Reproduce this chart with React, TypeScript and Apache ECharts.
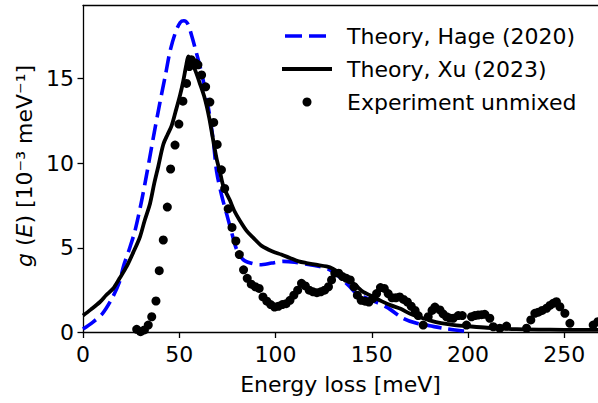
import React, { useEffect, useRef } from "react";
import * as echarts from "echarts";

const xTicks = [0, 50, 100, 150, 200, 250];
const yTicks = [0, 5, 10, 15];

const hageX = [0, 5, 10, 15, 19, 21, 24, 27, 30.5, 33.5, 37, 40, 43, 45.2, 48, 50.5, 52.4, 54.5, 56.5, 58.2, 61, 63.3, 65.5, 67.7, 69.4, 72, 74.6, 77, 79.8, 83.2, 87, 91.9, 98, 104, 110, 117.9, 123, 128.2, 133, 138.6, 142.1, 150, 157.7, 166.3, 173.3, 180, 187, 197.5, 200];
const hageY = [0.2, 0.6, 1.1, 2.0, 3.0, 3.9, 4.9, 6.0, 7.8, 9.6, 11.8, 13.6, 15.3, 16.6, 17.7, 18.3, 18.4, 18.2, 17.5, 16.8, 15.6, 14.4, 13.0, 11.3, 9.5, 8.1, 7.0, 6.0, 4.9, 4.3, 4.1, 4.0, 4.1, 4.2, 4.15, 4.0, 3.9, 3.7, 3.3, 2.7, 2.3, 1.9, 1.5, 0.84, 0.54, 0.4, 0.25, 0.09, 0.05];

const xuX = [0, 4, 8.8, 12, 15.7, 19, 22.7, 26, 29.6, 32, 34.8, 37, 39.1, 41.7, 44, 46, 48, 50.4, 52, 53.5, 54.7, 56, 58.2, 61, 63.3, 65.5, 67.7, 69.5, 71.1, 73, 76.3, 78.5, 81.5, 85, 88.4, 93, 98.8, 103, 107.5, 112, 116.1, 121, 126.5, 130, 133.4, 138, 141.5, 145.5, 150, 155, 160, 165, 170, 175, 180, 186, 192, 199, 210, 225, 240, 255, 267.5];
const xuY = [1.0, 1.35, 1.8, 2.2, 2.6, 3.2, 3.9, 4.7, 5.65, 6.6, 7.6, 8.8, 9.8, 11.1, 11.7, 12.2, 13.0, 14.0, 14.8, 15.7, 16.3, 16.0, 15.5, 14.6, 13.8, 12.7, 11.3, 10.2, 9.5, 8.6, 7.8, 7.2, 6.6, 6.0, 5.6, 5.1, 4.77, 4.6, 4.4, 4.2, 4.1, 4.0, 3.9, 3.75, 3.5, 3.1, 2.8, 2.4, 2.15, 1.85, 1.6, 1.4, 1.1, 0.9, 0.72, 0.55, 0.45, 0.38, 0.28, 0.2, 0.17, 0.15, 0.15];

const expX = [0, 2, 4, 6, 8, 10, 12, 14, 16, 18, 20, 22, 24, 26, 27.9, 29.9, 31.9, 33.9, 35.7, 37.9, 39.6, 41.7, 43.8, 45.5, 47.8, 49.8, 51.9, 53.8, 55.2, 56.2, 57.3, 58.4, 59.7, 61.6, 63.7, 65.9, 67.9, 69.7, 71.9, 73.6, 75.4, 77.4, 79.4, 81.2, 83.4, 85.3, 87.4, 89.5, 91.5, 93.5, 95.5, 97.5, 99.5, 101.5, 103.5, 105.5, 107.5, 109.5, 111.5, 113.5, 115.5, 117.5, 119.5, 121.5, 123.5, 125.5, 127.5, 129.1, 130.8, 132.8, 134.8, 136.8, 138.8, 140.8, 142.5, 144.5, 146.5, 148.5, 150.5, 152.5, 154.5, 156.5, 158.5, 160.5, 162.5, 164.5, 166.5, 168.5, 170.5, 172.5, 174.1, 176.7, 179.3, 181.3, 182.8, 185.4, 187, 188.8, 190.5, 192.3, 194.9, 197, 199.2, 201.8, 203.5, 205.2, 207, 208.7, 211.3, 213.1, 216.5, 220, 222, 224, 226, 228, 230.4, 232.6, 234.7, 236.5, 238.5, 240.8, 242.5, 244.2, 245.9, 247.7, 250.3, 252.9, 255, 257, 259, 261, 263, 265, 267.4];
const expY = [-0.2, -0.2, -0.2, -0.2, -0.2, -0.2, -0.2, -0.2, -0.2, -0.2, -0.2, -0.2, -0.2, -0.2, 0.19, 0.05, 0.15, 0.44, 0.93, 1.86, 3.65, 5.46, 7.4, 9.65, 11.06, 12.3, 13.65, 14.7, 15.7, 16.1, 15.9, 15.9, 15.8, 15.2, 14.5, 13.6, 12.4, 11.1, 9.6, 8.5, 7.3, 6.2, 5.4, 4.6, 3.7, 3.2, 2.85, 2.7, 2.6, 2.1, 1.85, 1.65, 1.5, 1.55, 1.65, 1.7, 1.9, 2.2, 2.5, 2.9, 2.75, 2.5, 2.4, 2.35, 2.4, 2.5, 2.7, 3.1, 3.5, 3.5, 3.3, 3.2, 3.1, 2.7, 2.2, 1.9, 1.85, 1.8, 2.0, 2.3, 2.65, 2.6, 2.3, 2.05, 2.05, 2.1, 1.95, 1.8, 1.55, 1.3, 1.0, 0.44, 0.93, 1.3, 1.5, 1.33, 1.1, 0.93, 0.85, 0.84, 1.0, 1.0, 0.44, 0.93, 1.0, 1.03, 1.05, 1.07, 0.84, 0.34, 0.25, 0.38, -0.1, -0.1, -0.1, -0.1, 0.25, 0.74, 1.13, 1.2, 1.3, 1.43, 1.6, 1.72, 1.82, 1.52, 1.13, 0.54, -0.15, -0.15, -0.15, -0.15, -0.15, 0.44, 0.64];

const legendNames = ["Theory, Hage (2020)", "Theory, Xu (2023)", "Experiment unmixed"];

const FONT = "DejaVu Sans";

function zip(xs: number[], ys: number[]) {
  return xs.map((x, i) => [x, ys[i]]);
}

export default function App() {
  const ref = useRef<HTMLDivElement>(null);
  useEffect(() => {
    if (!ref.current) return;
    const chart = echarts.init(ref.current, null, { renderer: "svg" });
    const axisLineStyle = { color: "#000", width: 1.3 };
    chart.setOption({
      animation: false,
      backgroundColor: "#fff",
      textStyle: { fontFamily: FONT },
      grid: { left: 83, right: 0, top: 5.5, bottom: 70.5 },
      xAxis: [
        {
          type: "value",
          min: 0,
          max: 267.5,
          interval: 50,
          position: "bottom",
          splitLine: { show: false },
          axisLine: { show: true, onZero: false, lineStyle: axisLineStyle },
          axisTick: { show: true, length: 5.5, lineStyle: axisLineStyle, customValues: xTicks },
          axisLabel: { color: "#000", fontSize: 22, fontFamily: FONT, margin: 11, customValues: xTicks },
          name: "Energy loss [meV]",
          nameLocation: "middle",
          nameGap: 41,
          nameTextStyle: { color: "#000", fontSize: 22, fontFamily: FONT },
        },
        {
          type: "value",
          min: 0,
          max: 267.5,
          position: "top",
          splitLine: { show: false },
          axisLine: { show: true, onZero: false, lineStyle: axisLineStyle },
          axisTick: { show: false },
          axisLabel: { show: false },
        },
      ],
      yAxis: {
        type: "value",
        min: 0,
        max: 19.3,
        interval: 5,
        splitLine: { show: false },
        axisLine: { show: true, onZero: false, lineStyle: axisLineStyle },
        axisTick: { show: true, length: 5.5, lineStyle: axisLineStyle, customValues: yTicks },
        axisLabel: { color: "#000", fontSize: 22, fontFamily: FONT, margin: 9, customValues: yTicks },
        name: "{i|g} ({i|E}) [10⁻³ meV⁻¹]",
        nameLocation: "middle",
        nameGap: 44,
        nameRotate: 90,
        nameTextStyle: {
          color: "#000",
          fontSize: 22,
          fontFamily: FONT,
          padding: [0, 0, 0, 6],
          rich: { i: { fontStyle: "italic", fontSize: 22, fontFamily: FONT, color: "#000" } },
        },
      },
      series: [
        {
          name: legendNames[0],
          type: "line",
          data: zip(hageX, hageY),
          showSymbol: false,
          symbol: "none",
          smooth: 0.3,
          lineStyle: { color: "#0000ff", width: 3.6, type: [16, 7] },
          z: 2,
        },
        {
          name: legendNames[1],
          type: "line",
          data: zip(xuX, xuY),
          showSymbol: false,
          symbol: "none",
          smooth: 0.3,
          lineStyle: { color: "#000", width: 3.8 },
          z: 3,
        },
        {
          name: legendNames[2],
          type: "scatter",
          data: zip(expX, expY),
          symbol: "circle",
          symbolSize: 9,
          itemStyle: { color: "#000", opacity: 1 },
          z: 4,
        },
      ],
      graphic: [
        { type: "line", shape: { x1: 285, y1: 36, x2: 327, y2: 36 }, style: { stroke: "#0000ff", lineWidth: 3.6, lineDash: [17, 7] } },
        { type: "line", shape: { x1: 282, y1: 69, x2: 332, y2: 69 }, style: { stroke: "#000", lineWidth: 3.8 } },
        { type: "circle", shape: { cx: 307, cy: 102, r: 4.5 }, style: { fill: "#000" } },
        { type: "text", x: 347, y: 36, style: { text: legendNames[0], fontSize: 22, fontFamily: FONT, fill: "#000", verticalAlign: "middle" } },
        { type: "text", x: 347, y: 69, style: { text: legendNames[1], fontSize: 22, fontFamily: FONT, fill: "#000", verticalAlign: "middle" } },
        { type: "text", x: 347, y: 102, style: { text: legendNames[2], fontSize: 22, fontFamily: FONT, fill: "#000", verticalAlign: "middle" } },
      ],
    });
    return () => chart.dispose();
  }, []);
  return <div ref={ref} style={{ width: 598, height: 403, position: "absolute", left: 0, top: 0 }} />;
}
